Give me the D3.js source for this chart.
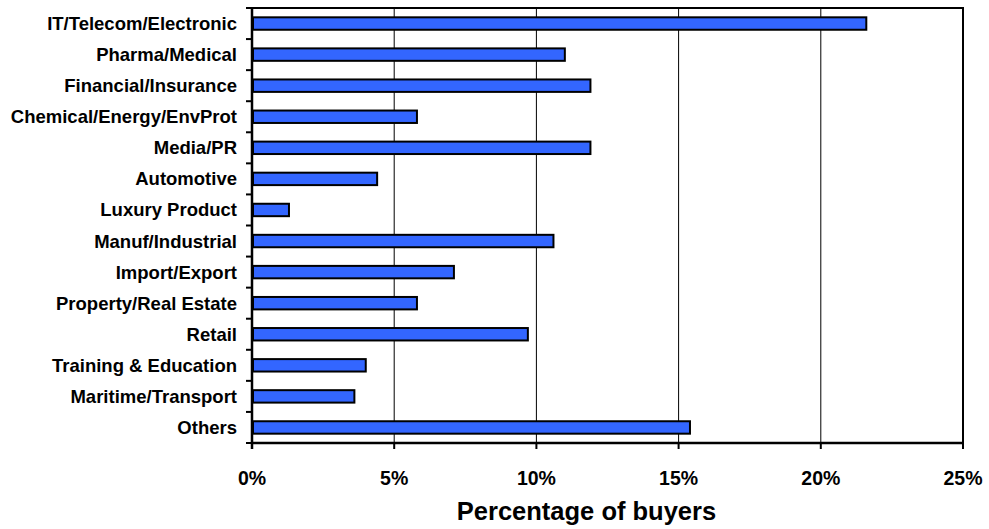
<!DOCTYPE html>
<html>
<head>
<meta charset="utf-8">
<script src="https://cdn.jsdelivr.net/npm/d3@7"></script>
<style>
  html, body { margin: 0; padding: 0; background: #ffffff; }
  svg { display: block; }
  text { font-family: "Liberation Sans", Arial, sans-serif; font-weight: bold; fill: #000; }
</style>
</head>
<body>
<script>
// Industry sectors of buyers and their share
const categories = [
  "IT/Telecom/Electronic", "Pharma/Medical", "Financial/Insurance",
  "Chemical/Energy/EnvProt", "Media/PR", "Automotive", "Luxury Product",
  "Manuf/Industrial", "Import/Export", "Property/Real Estate", "Retail",
  "Training & Education", "Maritime/Transport", "Others"
];
const shares = [21.6, 11.0, 11.9, 5.8, 11.9, 4.4, 1.3, 10.6, 7.1, 5.8, 9.7, 4.0, 3.6, 15.4];
const tickValues = [0, 5, 10, 15, 20, 25];
const xTitle = "Percentage of buyers";

const W = 989, H = 529;
const margin = { top: 8, right: 26, bottom: 86, left: 252 };
const iw = W - margin.left - margin.right;
const ih = H - margin.top - margin.bottom;

const svg = d3.select("body").append("svg").attr("width", W).attr("height", H);
const g = svg.append("g").attr("transform", `translate(${margin.left},${margin.top})`);

const x = d3.scaleLinear().domain([0, 25]).range([0, iw]);
const y = d3.scaleBand().domain(categories).range([0, ih]).padding(0);

// vertical gridlines
g.append("g").selectAll("line").data(tickValues.slice(1, -1)).join("line")
  .attr("x1", d => x(d)).attr("x2", d => x(d))
  .attr("y1", 0).attr("y2", ih)
  .attr("stroke", "#000").attr("stroke-width", 1);

// plot frame (top and right)
g.append("path")
  .attr("d", `M0,0H${iw}V${ih}`)
  .attr("fill", "none").attr("stroke", "#000").attr("stroke-width", 2);

// bars
const barH = y.bandwidth() * 0.40;
g.append("g").selectAll("rect").data(categories).join("rect")
  .attr("x", x(0) + 1)
  .attr("y", d => y(d) + (y.bandwidth() - barH) / 2)
  .attr("width", (d, i) => x(shares[i]) - x(0) - 1)
  .attr("height", barH)
  .attr("fill", "#3366FF")
  .attr("stroke", "#000")
  .attr("stroke-width", 2);

// category axis: ticks at band boundaries
const yAxis = g.append("g");
yAxis.append("line").attr("x1", 0).attr("x2", 0).attr("y1", 0).attr("y2", ih + 6)
  .attr("stroke", "#000").attr("stroke-width", 2.5);
const bounds = categories.map(c => y(c)).concat([ih]);
yAxis.selectAll("line.tk").data(bounds).join("line").attr("class", "tk")
  .attr("x1", -6).attr("x2", 0).attr("y1", d => d).attr("y2", d => d)
  .attr("stroke", "#000").attr("stroke-width", 2);
yAxis.selectAll("text").data(categories).join("text")
  .attr("x", -15).attr("y", d => y(d) + y.bandwidth() / 2)
  .attr("dy", "0.35em").attr("text-anchor", "end")
  .attr("font-size", 18.5).text(d => d);

// value axis
const xAxis = g.append("g").attr("transform", `translate(0,${ih})`);
xAxis.append("line").attr("x1", 0).attr("x2", iw).attr("stroke", "#000").attr("stroke-width", 2.5);
xAxis.selectAll("line.tk").data(tickValues).join("line").attr("class", "tk")
  .attr("x1", d => x(d)).attr("x2", d => x(d)).attr("y1", 0).attr("y2", 6)
  .attr("stroke", "#000").attr("stroke-width", 2);
xAxis.selectAll("text").data(tickValues).join("text")
  .attr("x", d => x(d)).attr("y", 485 - margin.top - ih).attr("text-anchor", "middle")
  .attr("font-size", 19.5).text(d => d + "%");

svg.append("text")
  .attr("x", 586.5).attr("y", 520)
  .attr("text-anchor", "middle").attr("font-size", 25.5).text(xTitle);
</script>
</body>
</html>
